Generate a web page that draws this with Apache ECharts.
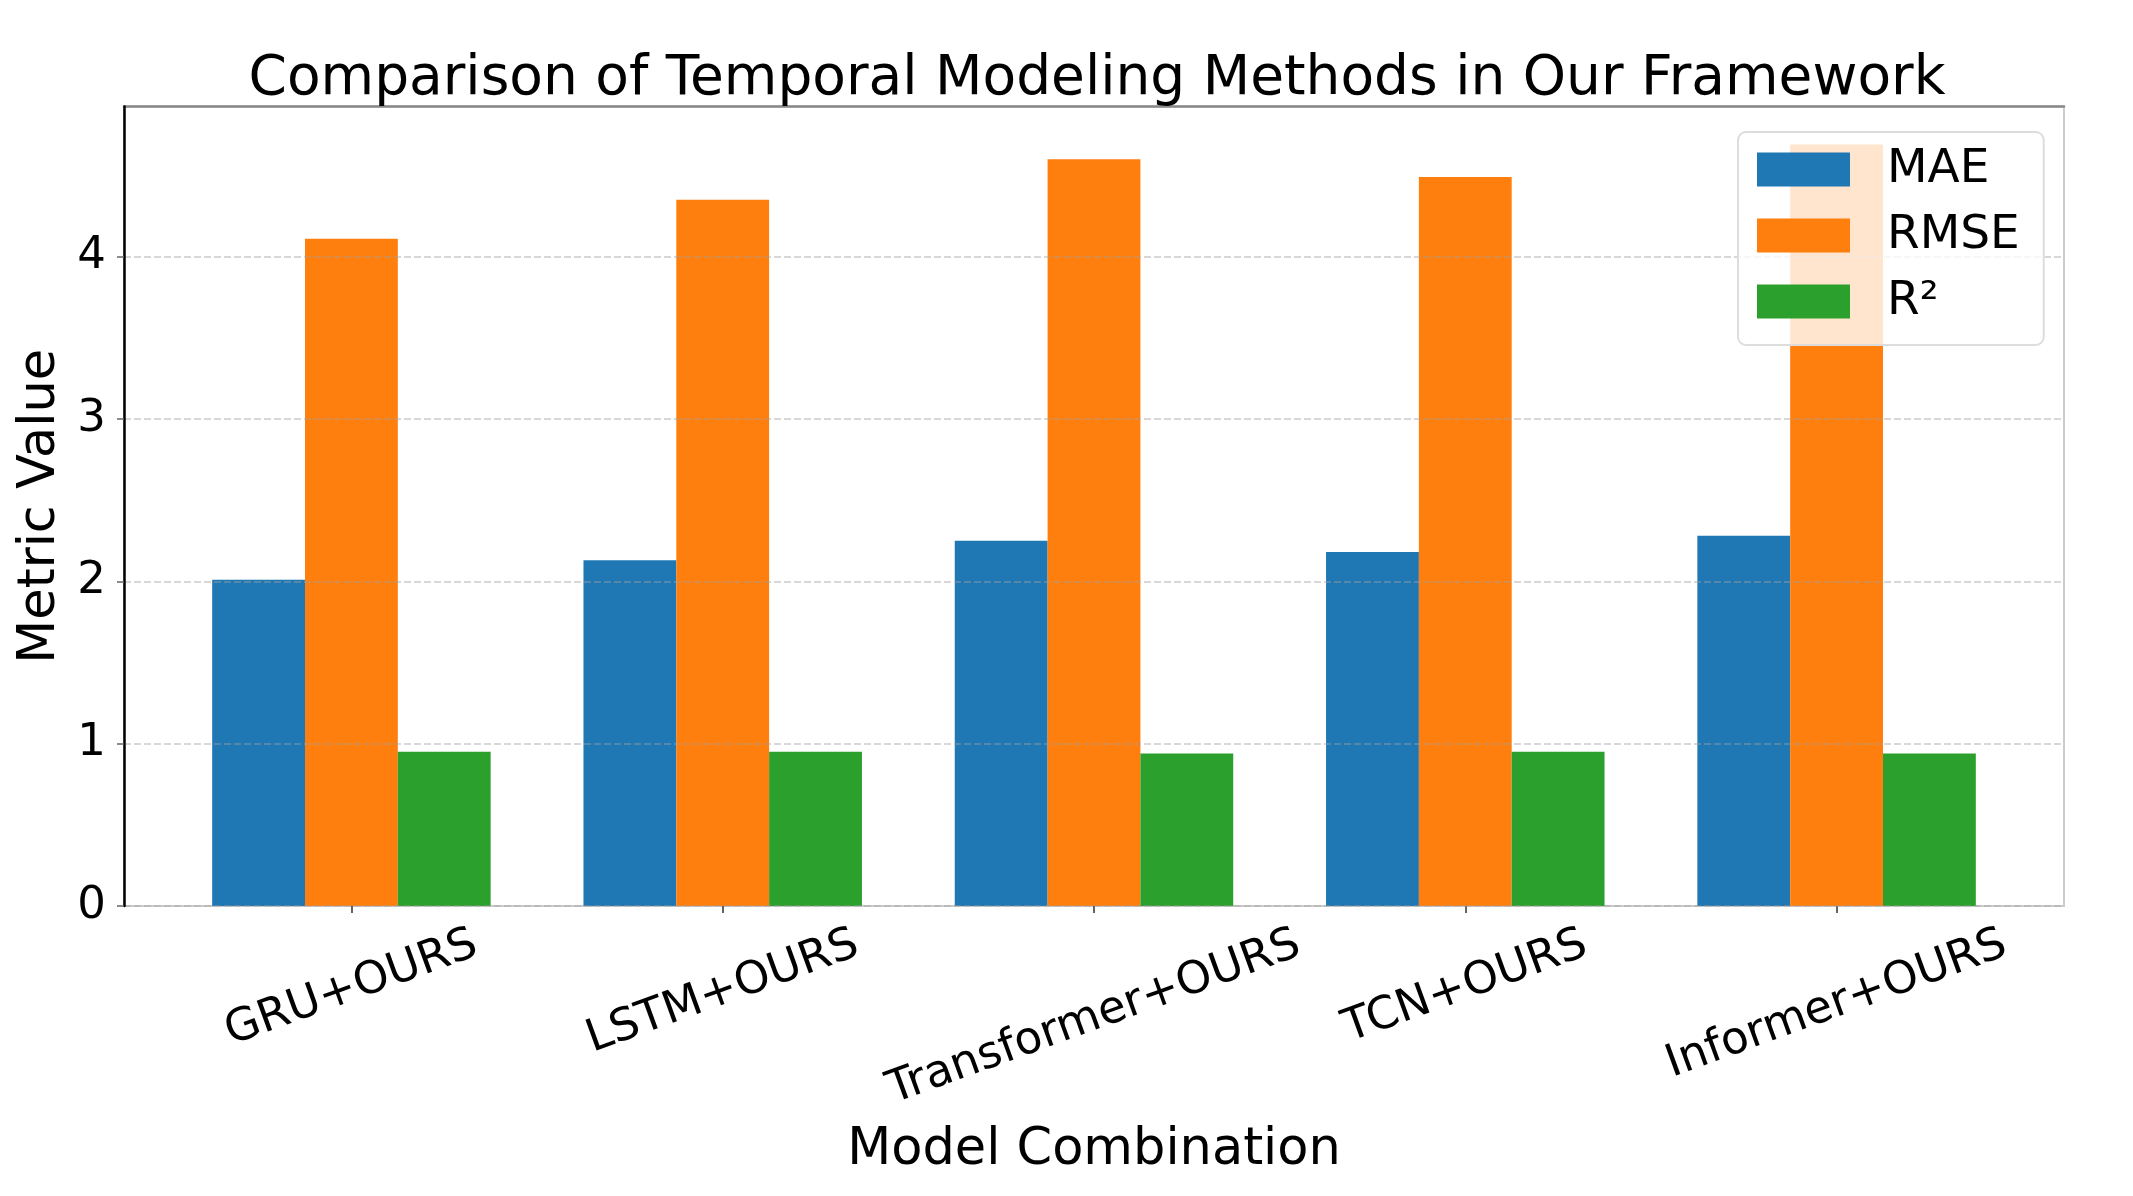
<!DOCTYPE html>
<html>
<head>
<meta charset="utf-8">
<script src="https://cdn.jsdelivr.net/npm/echarts@6/dist/echarts.min.js"></script>
<style>
html,body{margin:0;padding:0;background:#fff;}
#chart{width:2133px;height:1196px;}
</style>
</head>
<body>
<div id="chart"></div>
<script>
const categories = ['GRU+OURS', 'LSTM+OURS', 'Transformer+OURS', 'TCN+OURS', 'Informer+OURS'];
const seriesNames = ['MAE', 'RMSE', 'R²'];
const maeValues = [2.01, 2.13, 2.25, 2.18, 2.28];
const rmseValues = [4.11, 4.35, 4.60, 4.49, 4.69];
const r2Values = [0.95, 0.95, 0.94, 0.95, 0.94];
const yTicks = [0, 1, 2, 3, 4];
const colors = ['#1f77b4', '#ff7f0e', '#2ca02c'];

const FONT = 'DejaVu Sans';
const TICK_FS = 45;
const ROT = 20;
const yMax = Math.max(...rmseValues) * 1.05;
const xPad = 0.375 + 0.05 * (categories.length - 1 + 0.75);
const catIdx = categories.map((c, i) => i);

// matplotlib-like placement of rotated labels: top of rotated bbox aligned
const ctx = document.createElement('canvas').getContext('2d');
ctx.font = TICK_FS + 'px "' + FONT + '"';
const widths = categories.map(c => ctx.measureText(c).width);
const wMin = Math.min(...widths);
const rad = ROT * Math.PI / 180;
const rich = {};
categories.forEach((c, i) => {
  const d = (widths[i] - wMin) * Math.sin(rad) / 2;
  const p = 2 * d * Math.cos(rad);
  const r = p * Math.tan(rad);
  rich['s' + i] = { fontFamily: FONT, fontSize: TICK_FS, color: '#000', padding: [p, r, 0, 0] };
});

function mk(name, vals, color) {
  return {
    name: name,
    type: 'bar',
    data: vals.map((v, i) => [i, v]),
    barWidth: '25%',
    barGap: '0%',
    itemStyle: { color: color },
    emphasis: { disabled: true },
    z: 2
  };
}

const chart = echarts.init(document.getElementById('chart'), null, { renderer: 'canvas' });
chart.setOption({
  animation: false,
  backgroundColor: '#ffffff',
  title: {
    text: 'Comparison of Temporal Modeling Methods in Our Framework',
    left: 1092, top: 47, textAlign: 'center',
    textStyle: { fontFamily: FONT, fontSize: 55, fontWeight: 'normal', color: '#000' }
  },
  legend: {
    orient: 'vertical',
    left: 1738, top: 132,
    padding: [14, 24, 20, 19],
    itemWidth: 93, itemHeight: 34, itemGap: 19,
    icon: 'rect',
    backgroundColor: 'rgba(255,255,255,0.8)',
    borderColor: '#dddddd', borderWidth: 2, borderRadius: 8,
    textStyle: { fontFamily: FONT, fontSize: 47, color: '#000', padding: [0, 0, 0, 32] },
    data: seriesNames,
    z: 10
  },
  grid: {
    left: 124, right: 69, top: 106.5, bottom: 290,
    show: true, borderColor: '#cccccc', borderWidth: 2, backgroundColor: 'transparent'
  },
  xAxis: [{
    type: 'value',
    min: -xPad, max: categories.length - 1 + xPad,
    name: 'Model Combination',
    nameLocation: 'middle', nameGap: 219,
    nameTextStyle: { fontFamily: FONT, fontSize: 51, color: '#000' },
    axisLine: { show: true, lineStyle: { color: '#cccccc', width: 2 } },
    axisTick: { show: true, customValues: catIdx, length: 7, lineStyle: { color: '#333', width: 1.5 } },
    axisLabel: {
      customValues: catIdx,
      formatter: v => { const i = Math.round(v); return '{s' + i + '|' + categories[i] + '}'; },
      rich: rich,
      rotate: ROT, align: 'center', verticalAlign: 'middle', margin: 81,
      fontFamily: FONT, fontSize: TICK_FS, color: '#000'
    },
    splitLine: { show: false }
  }, {
    type: 'value', position: 'top',
    min: -xPad, max: categories.length - 1 + xPad,
    axisLine: { show: true, onZero: false, lineStyle: { color: '#888888', width: 2.5 } },
    axisTick: { show: false }, axisLabel: { show: false }, splitLine: { show: false }
  }],
  yAxis: {
    type: 'value',
    min: 0, max: yMax, interval: 1,
    z: 3,
    name: 'Metric Value',
    nameLocation: 'middle', nameGap: 54,
    nameTextStyle: { fontFamily: FONT, fontSize: 51, color: '#000' },
    axisLine: { show: true, onZero: false, lineStyle: { color: '#000', width: 2.5 } },
    axisTick: { show: true, customValues: yTicks, length: 7, lineStyle: { color: '#666', width: 1.5 } },
    axisLabel: {
      customValues: yTicks,
      margin: 18,
      fontFamily: FONT, fontSize: 45, color: '#000',
      formatter: v => String(v)
    },
    splitLine: { show: true, lineStyle: { color: 'rgba(160,160,160,0.55)', width: 1.5, type: [7, 3] } }
  },
  series: [
    mk(seriesNames[0], maeValues, colors[0]),
    mk(seriesNames[1], rmseValues, colors[1]),
    mk(seriesNames[2], r2Values, colors[2])
  ]
});
</script>
</body>
</html>
